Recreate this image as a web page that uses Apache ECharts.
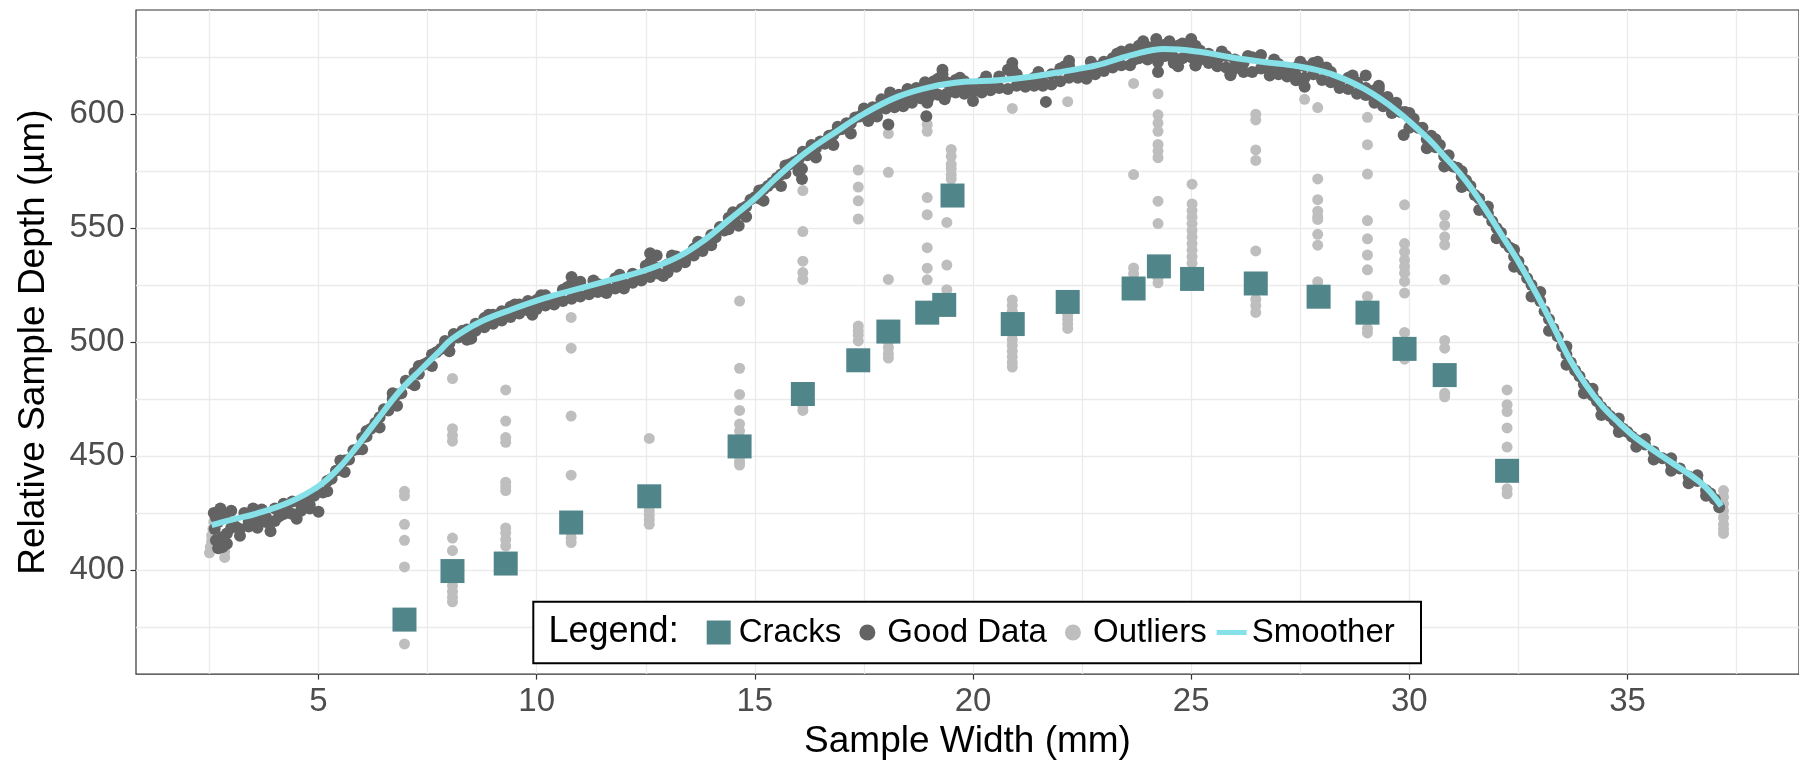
<!DOCTYPE html>
<html>
<head>
<meta charset="utf-8">
<script src="https://cdn.jsdelivr.net/npm/echarts@6/dist/echarts.min.js"></script>
<style>
html,body{margin:0;padding:0;background:#ffffff;}
#chart{width:1799px;height:765px;}
</style>
</head>
<body>
<div id="chart"></div>
<script>
// ---------- axis ticks / grid ----------
const xTickValues = [5, 10, 15, 20, 25, 30, 35];
const yTickValues = [400, 450, 500, 550, 600];
const xGridValues = [2.5, 5, 7.5, 10, 12.5, 15, 17.5, 20, 22.5, 25, 27.5, 30, 32.5, 35, 37.5];
const yGridValues = [375, 400, 425, 450, 475, 500, 525, 550, 575, 600, 625];

// ---------- Cracks ----------
const crackX = [6.97, 8.07, 9.29, 10.79, 12.58, 14.65, 16.1, 17.37, 18.06, 18.95, 19.34, 19.53, 20.91, 22.17, 23.68, 24.26, 25.02, 26.48, 27.92, 29.04, 29.89, 30.81, 32.24];
const crackY = [378.2, 399.5, 402.8, 420.8, 432.3, 454.2, 477.2, 492, 504.6, 512.9, 516.3, 564.3, 507.9, 517.6, 523.5, 533.2, 527.7, 525.7, 519.9, 512.9, 497, 485.5, 443.5];

// ---------- Smoother ----------
const smoothX = [2.55, 3.0, 3.58, 4.34, 5.02, 5.48, 5.86, 6.32, 6.85, 7.38, 7.8, 8.07, 8.68, 9.44, 10.2, 10.97, 11.73, 12.49, 13.25, 13.86, 14.4, 15.0, 15.46, 15.99, 16.4, 16.76, 17.52, 18.28, 19.04, 19.8, 20.57, 21.33, 22.09, 22.85, 23.61, 24.38, 25.14, 25.9, 26.66, 27.42, 28.18, 28.95, 29.71, 30.47, 30.85, 31.0, 31.38, 31.76, 32.14, 32.52, 32.9, 33.29, 33.67, 34.05, 34.43, 34.81, 35.19, 35.95, 36.71, 37.15];
const smoothY = [419.7, 422.0, 424.7, 429.8, 437.0, 445.0, 453.7, 465.2, 478.2, 488.5, 496.5, 501.5, 508.6, 514.4, 519.4, 523.4, 527.4, 531.5, 537.5, 545, 553.5, 563, 571.5, 580.5, 586.4, 591, 600.4, 607.7, 612, 614.2, 614.9, 616.4, 618.8, 621.5, 625.8, 628.6, 627.5, 625, 622.9, 621.1, 617.8, 611.3, 601.5, 588.5, 580.5, 577.5, 568.6, 557.8, 546.2, 534.6, 521.6, 507.2, 492.7, 481.1, 471.7, 464.5, 458, 447.9, 437.7, 428];

// ---------- Good Data ----------
const goodX = [
 2.6, 2.62, 2.65, 2.7, 2.75, 2.8, 2.85, 2.9, 3.0, 3.1, 3.2, 3.3, 3.4, 3.5, 3.6, 3.7, 3.8, 3.9, 4.0, 4.1, 4.2, 4.3, 4.4, 4.5, 4.6, 4.7, 4.8, 4.9, 5.0,
 5.1, 5.2, 5.3, 5.4, 5.5, 5.6, 5.7, 5.8, 5.9, 6.0, 6.1, 6.2, 6.3, 6.4, 6.5, 6.6, 6.7, 6.8, 6.9, 7.0, 7.1, 7.2, 7.3, 7.4, 7.5, 7.6, 7.7, 7.8, 7.9, 8.0,
 8.1, 8.2, 8.3, 8.4, 8.5, 8.6, 8.7, 8.8, 8.9, 9.0, 9.1, 9.2, 9.3, 9.4, 9.5, 9.6, 9.7, 9.8, 9.9, 10.0, 10.2, 10.4, 10.6, 10.8, 10.9, 11.0,
 11.2, 11.4, 11.6, 11.8, 12.0, 12.2, 12.4, 12.6, 12.7, 12.9, 13.0, 13.2, 13.4, 13.6, 13.8, 14.0, 14.1, 14.2, 14.3, 14.4, 14.5, 14.6, 14.7, 14.8, 14.9, 15.0,
 15.1, 15.2, 15.3, 15.4, 15.5, 15.6, 15.7, 15.8, 15.9, 16.0, 16.1, 16.2, 16.3, 16.4, 16.5, 16.6, 16.7, 16.8, 16.9, 17.0,
 17.1, 17.2, 17.3, 17.4, 17.5, 17.6, 17.7, 17.8, 17.9, 18.0, 18.1, 18.2, 18.3, 18.4, 18.5, 18.6, 18.7, 18.8, 18.9, 19.0,
 19.1, 19.2, 19.3, 19.4, 19.5, 19.6, 19.7, 19.8, 19.9, 20.0, 20.2, 20.4, 20.6, 20.8, 20.9, 21.0, 21.2, 21.4, 21.6, 21.8, 22.0,
 22.2, 22.4, 22.6, 22.8, 23.0, 23.2, 23.4, 23.6, 23.7, 23.8, 24.0, 24.1, 24.2, 24.3, 24.4, 24.5, 24.6, 24.7, 24.8, 24.9, 25.0,
 25.1, 25.2, 25.3, 25.4, 25.6, 25.8, 25.9, 26.0, 26.2, 26.4, 26.6, 26.8, 27.0, 27.2, 27.4, 27.5, 27.6, 27.8, 28.0,
 28.2, 28.4, 28.6, 28.8, 29.0, 29.1, 29.2, 29.3, 29.4, 29.5, 29.6, 29.7, 29.8, 29.9, 30.0,
 30.1, 30.2, 30.3, 30.4, 30.5, 30.6, 30.7, 30.8, 30.9, 31.0, 31.1, 31.2, 31.3, 31.4, 31.5, 31.6, 31.7, 31.8, 31.9, 32.0,
 32.1, 32.2, 32.3, 32.4, 32.5, 32.6, 32.7, 32.8, 32.9, 33.0, 33.1, 33.2, 33.3, 33.4, 33.5, 33.6, 33.7, 33.8, 33.9, 34.0,
 34.1, 34.2, 34.3, 34.4, 34.5, 34.6, 34.7, 34.8, 34.9, 35.0, 35.1, 35.2, 35.4, 35.6, 35.8, 36.0, 36.2, 36.4, 36.6, 36.8, 36.9, 37.0, 37.1,
 2.7, 2.9, 3.0, 3.4, 3.8, 4.2, 4.6,
 8.6, 9.0, 9.4, 9.8, 10.2, 10.6, 11.0, 11.4, 11.8, 12.2, 12.6, 13.0, 13.4, 13.8,
 17.6, 18.0, 18.4, 18.8, 19.2, 19.6, 20.0, 20.4, 20.8, 21.2, 21.6, 22.0, 22.4, 22.8, 23.2, 23.6, 24.0, 24.4, 24.8, 25.2, 25.6, 26.0, 26.4, 26.8, 27.2, 27.6, 28.0, 28.4, 28.8, 29.2,
 14.63, 16.08, 16.08, 18.06, 18.93, 18.95, 19.35, 20.0, 21.67, 24.24, 24.24, 24.7, 25.1, 25.9, 27.4, 27.6, 29.0, 29.87,
 10.8, 12.6, 12.75, 19.3, 20.9, 22.2, 23.9, 24.2, 24.5, 25.0, 27.9,
 5.2, 5.6, 6.0, 6.4, 6.8, 7.2, 7.6, 8.0, 8.4,
 14.0, 14.4, 14.8, 15.2, 15.6, 16.0, 16.4, 16.8, 17.2,
 29.6, 30.0, 30.4, 30.8, 31.2, 31.6, 32.0, 32.4, 32.8, 33.2, 33.6, 34.0, 34.4, 34.8, 35.2, 35.6, 36.0, 36.4, 36.8,
 8.8, 9.2, 9.6, 10.0, 10.4, 10.8, 11.2, 11.6, 12.0, 12.4, 12.8, 13.2, 13.6,
 17.8, 18.2, 18.6, 19.0, 19.4, 19.8, 20.2, 20.6, 21.0, 21.4, 21.8, 22.2, 22.6, 23.0, 23.4, 23.8, 24.2, 24.6, 25.0, 25.4, 25.8, 26.2, 26.6, 27.0, 27.4, 27.8, 28.2, 28.6, 29.0, 29.4,
 3.2, 3.6, 4.0, 4.4, 4.8, 2.8, 2.65,
 8.9, 9.5, 10.1, 10.7, 11.3, 11.9, 12.5, 13.1, 13.7,
 17.9, 18.5, 19.1, 19.7, 20.3, 20.9, 21.5, 22.1, 22.7, 23.3, 23.9, 24.5, 25.1, 25.7, 26.3, 26.9, 27.5, 28.1, 28.7, 29.3,
 5.5, 6.1, 6.7, 7.3, 7.9,
 14.5, 15.1, 15.7, 16.3, 16.9, 17.5,
 30.0, 30.6, 31.2, 31.8, 32.4, 33.0, 33.6, 34.2, 34.8, 35.4, 36.0, 36.6
];
const goodY = [
 425, 418, 413, 421, 427, 410, 424, 416, 426, 419, 415, 425, 421, 427, 422, 426.5, 421, 417, 427, 423.5, 429, 425.5, 430, 422.5, 428.5, 431, 427, 432.5, 425.5,
 434, 439, 440, 443.5, 444, 448, 448.5, 452.5, 453, 458, 458.5, 462, 464.5, 467, 470.5, 470, 475, 477, 477.5, 483, 482, 486.5, 486, 490, 491, 494.5, 495.5, 497, 499.5, 499.5,
 503.5, 502, 505, 505.5, 501.5, 508, 507.5, 510.5, 509, 512, 511, 513.5, 512, 515.5, 513, 516.5, 515, 518, 512, 518.5, 520.5, 519, 523, 525.5, 521, 526.5,
 522, 525.5, 524, 528, 525.5, 530, 528, 535, 533, 529, 534, 537.5, 535, 541, 542.5, 547, 546, 550.5, 549, 554.5, 553.5, 556, 558.5, 559.5, 562.5, 563.5,
 563, 567, 568.5, 570, 572, 573.5, 574, 578, 579, 580, 583.5, 582, 585.5, 585, 588, 587, 590.5, 591, 593, 593.5,
 596, 596, 598.5, 599, 601.5, 600.5, 603, 601.5, 605, 606, 609.5, 605, 608.5, 606.5, 610, 608, 611.5, 609, 614, 610.5,
 613, 615.5, 617.5, 614, 612, 615, 611, 614.5, 612, 610, 614, 612, 616.5, 619.5, 620, 617.5, 613.5, 616, 612.5, 617.5, 620,
 621.5, 617.5, 619, 621, 623, 624.5, 627.5, 628.5, 624, 630, 629.5, 626.5, 631, 627, 630.5, 629, 625, 630, 631, 628, 631,
 621.5, 628, 625.5, 626.5, 624, 625.5, 617.5, 624, 622.5, 625, 626, 620, 622, 619, 620.5, 615, 621, 622.5, 620.5,
 618.5, 614.5, 616, 614, 617, 608.5, 610.5, 611, 607, 607.5, 604.5, 605, 601, 601, 598.5,
 598, 594, 594, 589, 590.5, 585.5, 586.5, 581.5, 582, 577, 576.5, 572.5, 571, 568.5, 564.5, 563, 558.5, 556.5, 553, 550,
 548, 543.5, 541.5, 537.5, 535.5, 531.5, 528, 525, 521, 518, 513.5, 510, 506, 502.5, 498, 494.5, 491, 487.5, 485, 481.5,
 479.5, 476.5, 474, 471.5, 469.5, 467.5, 465.5, 463.5, 462, 460.5, 458.5, 457, 455, 452, 449, 446.5, 444.5, 441, 439, 435, 433.5, 431, 427.5,
 409.5, 411.5, 418.5, 419, 423, 424.5, 426,
 505, 508, 511, 514, 516, 518, 520, 522, 523.5, 526, 528.5, 530.5, 536, 540,
 597, 602.5, 603.5, 607, 608.5, 609.5, 611, 610.5, 611, 612, 614, 614.5, 616, 617.5, 620.5, 621.5, 624, 625.5, 624.5, 624, 621, 620, 618.5, 617, 616.5, 616, 615, 611.5, 609, 605,
 551, 576, 571.5, 595.5, 599.1, 605, 606.6, 605.8, 605.4, 622.9, 618.5, 621, 621.4, 617.1, 614.9, 612, 608.4, 590.9,
 528.5, 539, 538, 619.5, 622.5, 623.5, 632, 633, 632, 633, 623,
 434.5, 443, 453, 462.5, 472, 481, 489.5, 496, 501,
 542.5, 549.5, 555, 562, 568.5, 575, 581, 586.5, 591.5,
 600.5, 594, 585, 577, 568, 558, 545.5, 533, 520, 505, 490, 477.5, 468, 460.5, 454, 448.5, 443.5, 438, 432.5,
 506.5, 509.5, 512.5, 514.5, 516.5, 519, 521, 521.5, 523.5, 527, 530, 533, 538,
 599, 603, 605, 607.5, 609, 609, 609.5, 611.5, 612.5, 612.5, 613, 616, 615.5, 619, 621.5, 624.5, 625.5, 622.5, 625, 622.5, 620.5, 618.5, 620, 617.5, 617, 617.5, 614, 611, 611.5, 603.5,
 418, 418.5, 421.5, 424.5, 428.5, 414.5, 423,
 512, 516.5, 520.5, 524, 527, 529.5, 533.5, 538, 544,
 606.5, 611, 614.5, 616, 616.5, 618, 618.5, 621, 623, 626.5, 629.5, 631, 630, 627.5, 625.5, 624, 623, 620.5, 617, 612.5,
 448, 461, 477.5, 489.5, 500.5,
 557, 566.5, 577.5, 586.5, 594.5, 602.5,
 600.5, 589, 575, 559.5, 540.5, 522, 498, 479.5, 466.5, 457.5, 449, 441.5
];

// ---------- Outliers ----------
const outlierX = [
 2.5, 2.52, 2.55, 2.55, 2.58, 2.6, 2.85, 2.85,
 6.97, 6.97, 6.97, 6.97, 6.97, 6.97,
 8.07, 8.07, 8.07, 8.07, 8.07, 8.07, 8.07, 8.07, 8.07, 8.07, 8.07,
 9.29, 9.29, 9.29, 9.29, 9.29, 9.29, 9.29, 9.29, 9.29, 9.29, 9.29,
 10.79, 10.79, 10.79, 10.79, 10.79, 10.79, 10.79,
 12.58, 12.58, 12.58, 12.58, 12.58,
 14.65, 14.65, 14.65, 14.65, 14.65, 14.65, 14.65, 14.65, 14.65,
 16.1, 16.1, 16.1, 16.1, 16.1, 16.1, 16.1,
 17.37, 17.37, 17.37, 17.37, 17.37, 17.37, 17.37, 17.37,
 18.06, 18.06, 18.06, 18.06, 18.06, 18.06, 18.06,
 18.95, 18.95, 18.95, 18.95, 18.95, 18.95, 18.95,
 19.5, 19.5, 19.5, 19.5, 19.5, 19.5,
 19.4, 19.4, 19.4,
 20.9, 20.9, 20.9, 20.9, 20.9, 20.9, 20.9, 20.9, 20.9, 20.9, 20.9, 20.9,
 22.17, 22.17, 22.17, 22.17, 22.17,
 23.68, 23.68, 23.68, 23.68,
 24.24, 24.24, 24.24, 24.24, 24.24, 24.24, 24.24, 24.24, 24.24, 24.24, 24.24,
 25.02, 25.02, 25.02, 25.02, 25.02, 25.02, 25.02, 25.02, 25.02, 25.02, 25.02,
 26.48, 26.48, 26.48, 26.48, 26.48, 26.48, 26.48, 26.48,
 27.6, 27.9, 27.9, 27.9, 27.9, 27.9, 27.9, 27.9, 27.9, 27.9,
 29.04, 29.04, 29.04, 29.04, 29.04, 29.04, 29.04, 29.04, 29.04, 29.04,
 29.89, 29.89, 29.89, 29.89, 29.89, 29.89, 29.89, 29.89, 29.89, 29.89,
 30.81, 30.81, 30.81, 30.81, 30.81, 30.81, 30.81, 30.81, 30.81,
 32.24, 32.24, 32.24, 32.24, 32.24, 32.24, 32.24,
 37.2, 37.2, 37.2, 37.2, 37.2, 37.2, 37.2, 37.2
];
const outlierY = [
 407.5, 410, 412.5, 415, 418, 421, 405.5, 408,
 434.5, 432.5, 420, 413, 401.3, 367.5,
 484, 462, 459, 456.5, 414, 408.5, 395.5, 393, 390.5, 388, 386,
 479, 465.3, 458.1, 456, 438.5, 436.5, 434.8, 418.4, 416.3, 413.4, 410.5,
 510.8, 497.3, 467.5, 441.6, 416.3, 414, 412,
 457.7, 426, 424, 422, 420,
 518, 488.5, 477, 470, 464, 461, 449.5, 447.5, 446,
 566.5, 548.5, 535.5, 530.5, 527.5, 472, 470,
 575.5, 568, 562, 554, 507, 505, 503, 500.5,
 591.5, 574.5, 527.5, 500, 497.5, 495, 493,
 595.5, 592.5, 563.4, 555.9, 541.4, 532.4, 527.3,
 584.5, 581.5, 578, 576, 573.5, 571.5,
 552.5, 533.8, 523,
 602.5, 518.5, 516, 513.5, 511, 503.5, 501, 498.5, 496, 493.5, 491, 489,
 605.5, 512, 510, 508, 506,
 613.5, 573.5, 532.5, 530,
 609, 599.7, 596.1, 592.5, 586.7, 583.8, 580.9, 561.8, 552, 528, 526,
 569.3, 560.6, 557.7, 554.8, 552, 549, 546.1, 543.2, 540.3, 537.5, 534.6,
 600, 597.5, 584.3, 579.7, 540, 518.7, 516, 513,
 606.5, 602.9, 571.6, 562.5, 557.4, 555, 553.8, 547.3, 542.5, 526.5,
 598.6, 586.6, 573.7, 553.3, 545.3, 538.2, 531.7, 520, 506, 504,
 560.2, 543.2, 539.6, 536, 533.1, 530.2, 526.6, 521.5, 504.2, 492.5,
 555.6, 551.3, 546.2, 542.6, 527.4, 500.7, 497.3, 477.5, 476,
 479, 472.5, 469.5, 462.3, 453.9, 435.6, 433.4,
 434.8, 432, 429, 426, 423, 420, 418, 416
];

// ---------- labels ----------
const seriesNames = ['Cracks', 'Good Data', 'Outliers', 'Smoother'];
const legendTitle = 'Legend:';
const xAxisTitle = 'Sample Width (mm)';
const yAxisTitle = 'Relative Sample Depth (\u00b5m)';

const pairs = (xs, ys) => xs.map((x, i) => [x, ys[i]]);

const FONT = '"Liberation Sans", Arial, Helvetica, sans-serif';
const COL_CRACK = '#508589';
const COL_GOOD = '#636363';
const COL_OUT = '#BEBEBE';
const COL_SMOOTH = '#86E1E9';
const COL_GRID = '#EBEBEB';

const chart = echarts.init(document.getElementById('chart'), null, {renderer: 'canvas'});

const option = {
  animation: false,
  backgroundColor: '#ffffff',
  grid: {
    left: 136, top: 10, width: 1667.4, height: 672.5,
    show: true, borderColor: '#333333', borderWidth: 1.2, backgroundColor: 'transparent'
  },
  xAxis: {
    type: 'value', min: 0.817, max: 38.93,
    axisLine: {show: false},
    axisTick: {show: true, length: 5.5, lineStyle: {color: '#333333', width: 1.2}, customValues: xTickValues},
    axisLabel: {customValues: xTickValues, margin: 11, fontFamily: FONT, fontSize: 33, color: '#4D4D4D'},
    splitLine: {show: false},
    name: xAxisTitle, nameLocation: 'middle', nameGap: 44,
    nameTextStyle: {fontFamily: FONT, fontSize: 37, color: '#000000'}
  },
  yAxis: {
    type: 'value', min: 354.28, max: 645.72,
    axisLine: {show: false},
    axisTick: {show: true, length: 5.5, lineStyle: {color: '#333333', width: 1.2}, customValues: yTickValues},
    axisLabel: {customValues: yTickValues, margin: 11.5, fontFamily: FONT, fontSize: 33, color: '#4D4D4D'},
    splitLine: {show: false},
    name: yAxisTitle, nameLocation: 'middle', nameGap: 84, nameRotate: 90,
    nameTextStyle: {fontFamily: FONT, fontSize: 37, color: '#000000'}
  },
  legend: {
    left: 706.7, top: 616, orient: 'horizontal', padding: 0,
    itemWidth: 30, itemHeight: 24, itemGap: 10, z: 12,
    selectedMode: false,
    textStyle: {fontFamily: FONT, fontSize: 33, color: '#000000'},
    data: [
      {name: seriesNames[0], icon: 'path://M0,0H10V10H0Z', itemStyle: {color: COL_CRACK}},
      {name: seriesNames[1], icon: 'circle', itemStyle: {color: COL_GOOD, borderColor: '#ffffff', borderWidth: 8}},
      {name: seriesNames[2], icon: 'circle', itemStyle: {color: COL_OUT, borderColor: '#ffffff', borderWidth: 8}},
      {name: seriesNames[3], icon: 'path://M0,0H30V5H0Z', itemStyle: {color: COL_SMOOTH}}
    ]
  },
  graphic: [
    {type: 'rect', z: 10, silent: true,
     shape: {x: 533.3, y: 601.7, width: 887.7, height: 61.6},
     style: {fill: '#ffffff', stroke: '#000000', lineWidth: 2}},
    {type: 'text', z: 12, silent: true, x: 548.5, y: 632.5,
     style: {text: legendTitle, font: '36px ' + FONT, fill: '#000000', verticalAlign: 'middle', align: 'left'}}
  ],
  series: [
    {
      name: 'grid', type: 'line', data: [], z: 0, zlevel: 0, silent: true,
      markLine: {
        z: 0,
        silent: true, symbol: ['none', 'none'], label: {show: false},
        lineStyle: {color: COL_GRID, width: 1.3, type: 'solid'},
        emphasis: {disabled: true},
        data: xGridValues.map(v => ({xAxis: v})).concat(yGridValues.map(v => ({yAxis: v})))
      }
    },
    {
      name: seriesNames[2], type: 'scatter', z: 2, symbol: 'circle', symbolSize: 11,
      itemStyle: {color: COL_OUT, opacity: 1},
      data: pairs(outlierX, outlierY)
    },
    {
      name: seriesNames[1], type: 'scatter', z: 3, symbol: 'circle', symbolSize: 12,
      itemStyle: {color: COL_GOOD, opacity: 1},
      data: pairs(goodX, goodY)
    },
    {
      name: seriesNames[0], type: 'scatter', z: 4, symbol: 'rect', symbolSize: 24,
      itemStyle: {color: COL_CRACK, opacity: 1},
      data: pairs(crackX, crackY)
    },
    {
      name: seriesNames[3], type: 'line', z: 5, smooth: 0.4, showSymbol: false, symbol: 'none',
      lineStyle: {color: COL_SMOOTH, width: 6},
      itemStyle: {color: COL_SMOOTH},
      data: pairs(smoothX, smoothY)
    }
  ]
};
chart.setOption(option);
</script>
</body>
</html>
